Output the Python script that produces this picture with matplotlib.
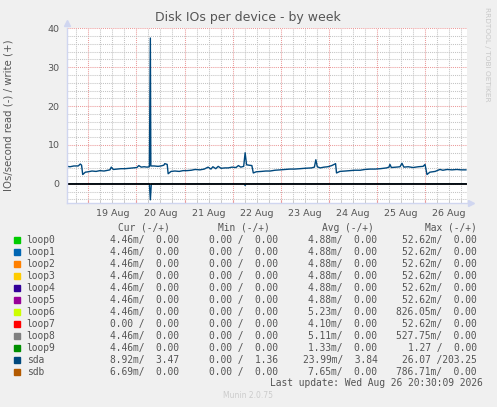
import matplotlib
matplotlib.use("Agg")
import matplotlib.pyplot as plt
from matplotlib.ticker import MultipleLocator, NullFormatter

W, H = 497, 407

# sda write (+) IOs/s, x in days since 19 Aug 00:00
sda_write_x = [
    -0.449, -0.443, -0.38, -0.30, -0.21, -0.166, -0.14, -0.116, -0.062, -0.006,
    0.077, 0.16, 0.243, 0.326, 0.41, 0.45, 0.478, 0.52, 0.60, 0.68,
    0.76, 0.85, 0.93, 1.01, 1.05, 1.10, 1.16, 1.22, 1.27, 1.29,
    1.30, 1.37, 1.45, 1.51, 1.57, 1.59, 1.64, 1.66, 1.72, 1.80,
    1.89, 1.97, 2.05, 2.14, 2.22, 2.32, 2.41, 2.49, 2.55, 2.59,
    2.65, 2.70, 2.76, 2.84, 2.91, 2.99, 3.07, 3.12, 3.17, 3.23,
    3.26, 3.29, 3.34, 3.40, 3.43, 3.49, 3.60, 3.69, 3.78, 3.88,
    3.99, 4.09, 4.19, 4.29, 4.40, 4.50, 4.64, 4.70, 4.73, 4.76,
    4.82, 4.90, 4.98, 5.06, 5.11, 5.14, 5.16, 5.23, 5.34, 5.44,
    5.54, 5.65, 5.75, 5.86, 5.96, 6.07, 6.20, 6.25, 6.27, 6.30,
    6.40, 6.48, 6.52, 6.56, 6.65, 6.75, 6.86, 6.96, 7.00, 7.04,
    7.10, 7.21, 7.31, 7.37, 7.46, 7.56, 7.66, 7.75, 7.85,
]
sda_write = [
    4.5, 4.5, 4.4, 4.6, 4.6, 5.1, 4.8, 2.4, 3.0, 3.1,
    3.3, 3.2, 3.4, 3.3, 3.5, 3.6, 4.3, 3.7, 3.8, 3.9,
    3.9, 4.0, 4.1, 4.2, 4.7, 4.3, 4.4, 4.3, 4.4, 37.5,
    4.6, 4.6, 4.5, 4.6, 4.8, 5.2, 5.0, 2.6, 3.2, 3.3,
    3.2, 3.4, 3.4, 3.5, 3.7, 3.6, 3.8, 4.3, 3.8, 4.4,
    3.9, 4.5, 4.0, 4.1, 4.1, 4.3, 4.2, 4.7, 4.3, 4.5,
    8.0, 4.9, 4.8, 4.7, 2.8, 3.1, 3.2, 3.3, 3.3, 3.5,
    3.6, 3.7, 3.8, 3.8, 3.9, 4.0, 4.1, 4.3, 6.2, 4.4,
    4.1, 4.3, 4.4, 4.7, 5.0, 5.2, 2.8, 3.2, 3.3, 3.4,
    3.5, 3.5, 3.7, 3.8, 3.8, 3.9, 4.1, 4.3, 5.0, 4.2,
    4.3, 4.4, 5.3, 4.3, 4.4, 4.2, 4.4, 4.5, 5.0, 2.4,
    3.0, 3.2, 3.7, 3.5, 3.7, 3.6, 3.7, 3.6, 3.6,
]
# sda read (-), drawn below zero
sda_read_x = [-0.449, 1.27, 1.29, 1.31, 3.24, 3.26, 3.28, 7.85]
sda_read = [0.0, 0.0, -4.1, 0.0, 0.0, -0.4, 0.0, 0.0]

day_labels = ["19 Aug", "20 Aug", "21 Aug", "22 Aug", "23 Aug", "24 Aug", "25 Aug", "26 Aug"]

devices = ["loop0", "loop1", "loop2", "loop3", "loop4", "loop5",
           "loop6", "loop7", "loop8", "loop9", "sda", "sdb"]
colors = ["#00CC00", "#0066B3", "#FF8000", "#FFCC00", "#330099", "#990099",
          "#CCFF00", "#FF0000", "#808080", "#008F00", "#00487D", "#B35A00"]
cur = ["4.46m/  0.00"] * 7 + ["0.00 /  0.00", "4.46m/  0.00", "4.46m/  0.00",
                              "8.92m/  3.47", "6.69m/  0.00"]
mins = ["0.00 /  0.00"] * 10 + ["0.00 /  1.36", "0.00 /  0.00"]
avgs = ["4.88m/  0.00"] * 6 + ["5.23m/  0.00", "4.10m/  0.00", "5.11m/  0.00",
                               "1.33m/  0.00", "23.99m/  3.84", "7.65m/  0.00"]
maxs = ["52.62m/  0.00"] * 6 + ["826.05m/  0.00", "52.62m/  0.00", "527.75m/  0.00",
                                "1.27 /  0.00", "26.07 /203.25", "786.71m/  0.00"]

TXT = "#555555"


def fx(px):
    return px / W


def fy(py):
    return 1 - py / H


fig = plt.figure(figsize=(W / 100, H / 100), dpi=100, facecolor="#F0F0F0")
ax = fig.add_axes([fx(66.7), fy(203.3), (466.7 - 66.7) / W, (203.3 - 28.3) / H])
ax.set_facecolor("white")

ax.set_xlim(-0.449, 7.866)
ax.set_ylim(-5, 40)

# grid: red dotted on days / tens, grey dotted on 6h / 2 units
ax.xaxis.set_major_locator(MultipleLocator(1))
ax.xaxis.set_minor_locator(MultipleLocator(0.25))
ax.yaxis.set_major_locator(MultipleLocator(10))
ax.yaxis.set_minor_locator(MultipleLocator(2))
ax.grid(which="minor", color="#c4c4c4", linestyle=(0, (1, 1)), linewidth=0.75)
ax.grid(which="major", color="#eb9a9a", linestyle=(0, (1, 1)), linewidth=0.75)
ax.set_axisbelow(True)

ax.plot(sda_read_x, sda_read, color=colors[10], linewidth=1.0)
ax.axhline(0, color="black", linewidth=1.2)
ax.plot(sda_write_x, sda_write, color=colors[10], linewidth=1.0)

# ticks: labels at noon
ax.xaxis.set_major_formatter(NullFormatter())
for i, lab in enumerate(day_labels):
    ax.text(i + 0.5, -0.035, lab, transform=ax.get_xaxis_transform(),
            ha="center", va="top", fontsize=6.8, color=TXT)
ax.tick_params(axis="x", which="both", length=2, direction="in", color="#eb9a9a")
ax.tick_params(axis="x", which="minor", color="#c4c4c4")
ax.tick_params(axis="y", which="both", length=0, labelsize=6.8, labelcolor=TXT, pad=5)

for s in ["top", "right"]:
    ax.spines[s].set_visible(False)
for s in ["left", "bottom"]:
    ax.spines[s].set_color("#d0d6f0")
    ax.spines[s].set_linewidth(1.0)
ax.plot([0], [1.03], marker="^", color="#d0d6f0", markersize=4,
        transform=ax.transAxes, clip_on=False)
ax.plot([1.01], [0], marker=">", color="#d0d6f0", markersize=4,
        transform=ax.transAxes, clip_on=False)

fig.text(fx(248), fy(18), "Disk IOs per device - by week", ha="center", va="center",
         fontsize=9, color=TXT)
fig.text(fx(9), fy(115), "IOs/second read (-) / write (+)", rotation=90,
         ha="center", va="center", fontsize=7.3, color=TXT)
fig.text(fx(487), fy(7), "RRDTOOL / TOBI OETIKER", rotation=270,
         ha="center", va="top", fontsize=5.3, color="#c8c8c8")

# legend table
mono = "DejaVu Sans Mono"
fs = 6.9
y0 = 227.7
fig.text(fx(169.3), fy(y0), "Cur (-/+)", ha="right", va="center", family=mono, fontsize=fs, color=TXT)
fig.text(fx(269.3), fy(y0), "Min (-/+)", ha="right", va="center", family=mono, fontsize=fs, color=TXT)
fig.text(fx(373.3), fy(y0), "Avg (-/+)", ha="right", va="center", family=mono, fontsize=fs, color=TXT)
fig.text(fx(476.5), fy(y0), "Max (-/+)", ha="right", va="center", family=mono, fontsize=fs, color=TXT)
for i, name in enumerate(devices):
    yy = 239.7 + 12 * i
    fig.patches.append(plt.Rectangle((fx(14), fy(yy + 3)), 6 / W, 6 / H,
                                     transform=fig.transFigure, color=colors[i]))
    fig.text(fx(26.7), fy(yy), name, ha="left", va="center", family=mono, fontsize=fs, color=TXT)
    fig.text(fx(179), fy(yy), cur[i], ha="right", va="center", family=mono, fontsize=fs, color=TXT)
    fig.text(fx(278.3), fy(yy), mins[i], ha="right", va="center", family=mono, fontsize=fs, color=TXT)
    fig.text(fx(377.3), fy(yy), avgs[i], ha="right", va="center", family=mono, fontsize=fs, color=TXT)
    fig.text(fx(476.7), fy(yy), maxs[i], ha="right", va="center", family=mono, fontsize=fs, color=TXT)

fig.text(fx(482.7), fy(383.3), "Last update: Wed Aug 26 20:30:09 2026", ha="right",
         va="center", family=mono, fontsize=fs, color=TXT)
fig.text(fx(248), fy(396), "Munin 2.0.75", ha="center", va="center",
         fontsize=5.5, color="#cccccc")

fig.savefig("out.png", dpi=100, facecolor=fig.get_facecolor())
